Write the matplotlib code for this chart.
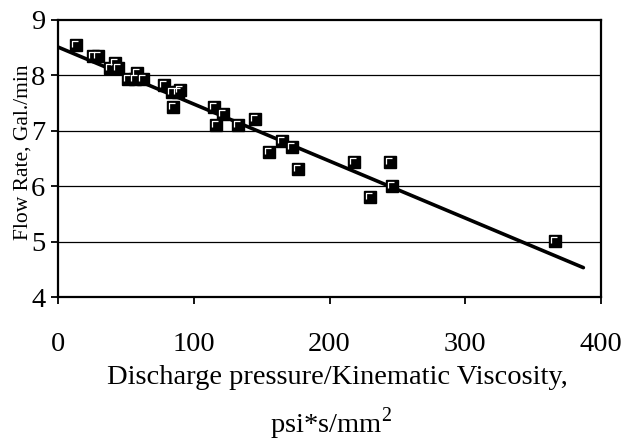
import matplotlib
matplotlib.use('Agg')
import matplotlib.pyplot as plt
from matplotlib.path import Path

# measured points: discharge pressure / kinematic viscosity vs flow rate
press_visc = [13, 26, 29.7, 38.3, 42, 44.4, 51.8, 56.7, 58, 62.8,
              78, 83.7, 84.5, 88.6, 89.9, 115, 116.4, 121.8, 132.4, 145,
              155.4, 164.8, 172.6, 176.6, 218, 229.8, 244.6, 245.8, 366]
flow_rate = [8.55, 8.34, 8.34, 8.13, 8.23, 8.13, 7.94, 7.94, 8.04, 7.94,
             7.82, 7.70, 7.43, 7.70, 7.73, 7.43, 7.11, 7.31, 7.11, 7.21,
             6.62, 6.81, 6.71, 6.31, 6.43, 5.80, 6.43, 6.00, 5.01]

# linear trend line end points
trend_x = [0, 387]
trend_y = [8.51, 4.53]

x_ticks = [0, 100, 200, 300, 400]
y_ticks = [4, 5, 6, 7, 8, 9]

plt.rcParams['font.family'] = ['Liberation Serif', 'DejaVu Serif']
plt.rcParams['mathtext.fontset'] = 'custom'
plt.rcParams['mathtext.rm'] = 'Liberation Serif'

fig = plt.figure(figsize=(6.29, 4.42), dpi=100)
ax = fig.add_axes([0.0922, 0.328, 0.8633, 0.627])

ax.set_xlim(0, 400)
ax.set_ylim(4, 9)
ax.set_xticks(x_ticks)
ax.set_yticks(y_ticks)
ax.tick_params(axis='both', direction='out', length=5, width=1.3,
               labelsize=20.5, colors='black')
ax.tick_params(axis='x', pad=20)
ax.tick_params(axis='y', pad=4)

for y in y_ticks[1:-1]:
    ax.axhline(y, color='black', lw=0.9, zorder=1)
for s in ax.spines.values():
    s.set_linewidth(1.6)

ax.plot(trend_x, trend_y, color='black', lw=2.6, solid_capstyle='round', zorder=3)

# excel style square marker: black box with white L highlight
corner = Path([(-1, -0.55), (-1, 1), (0.55, 1)],
              [Path.MOVETO, Path.LINETO, Path.LINETO])
ax.plot(press_visc, flow_rate, 's', ms=8.6, mfc='black', mec='black',
        mew=1.0, zorder=4)
ax.plot(press_visc, flow_rate, linestyle='none', marker=corner, ms=5.6,
        mfc='none', mec='white', mew=0.9, zorder=5)

fig.text(337 / 629, 1 - 378 / 442, 'Discharge pressure/Kinematic Viscosity,',
         fontsize=20.5, ha='center', va='center')
fig.text(331 / 629, 1 - 424 / 442, r'psi*s/mm$^\mathrm{2}$',
         fontsize=20.5, ha='center', va='center')
fig.text(23 / 629, 1 - 152 / 442, 'Flow Rate, Gal./min', rotation=90,
         fontsize=15.5, ha='center', va='center')

fig.savefig('out.png', dpi=100)
